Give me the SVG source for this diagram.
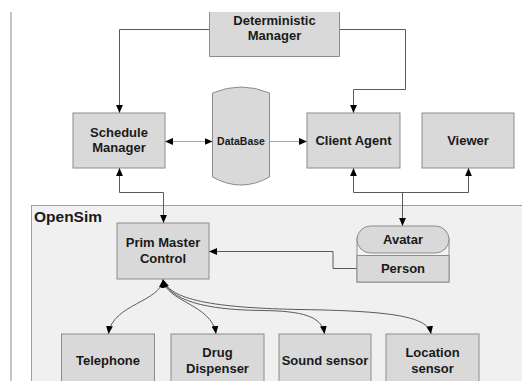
<svg xmlns="http://www.w3.org/2000/svg" width="522" height="381" viewBox="0 0 522 381">
  <style>
    .box { fill: #d9d9d9; stroke: #8c8c8c; stroke-width: 1; }
    .lbl { font-family: "Liberation Sans", Arial, sans-serif; font-weight: bold; font-size: 13px; fill: #1a1a1a; text-anchor: middle; }
    .conn { fill: none; stroke: #5a5a5a; stroke-width: 1; }
    .conn-light { fill: none; stroke: #a6a6a6; stroke-width: 1.2; }
    .arrow { marker-end: url(#ah); }
    .arrow2 { marker-start: url(#ah); marker-end: url(#ah); }
  </style>
  <defs>
    <marker id="ah" viewBox="0 0 8 8" refX="8" refY="4" markerWidth="8" markerHeight="8" markerUnits="userSpaceOnUse" orient="auto-start-reverse">
      <path d="M0,0.6 L8,4 L0,7.4 z" fill="#000"/>
    </marker>
  </defs>

  <rect width="522" height="381" fill="#ffffff"/>

  <!-- page margin line -->
  <line x1="11" y1="12" x2="11" y2="381" stroke="#8c8c8c" stroke-width="1"/>

  <!-- OpenSim region -->
  <g id="opensim">
    <rect x="31.5" y="205.5" width="500" height="190" fill="#f0f0f0" stroke="#a0a0a0" stroke-width="1"/>
    <text x="34" y="222" font-family="'Liberation Sans', Arial, sans-serif" font-weight="bold" font-size="15.5" fill="#1a1a1a">OpenSim</text>
  </g>

  <!-- connectors -->
  <g id="connectors">
    <path class="conn arrow" d="M209,29.5 H119.5 V113"/>
    <path class="conn arrow" d="M340,29.5 H405.5 V89.5 H353.5 V113"/>
    <path class="conn-light arrow2" d="M165,141.5 H212.5"/>
    <path class="conn-light arrow" d="M269,141.5 H307"/>
    <path class="conn arrow2" d="M119.5,168 V192.5 H163.5 V223"/>
    <path class="conn arrow2" d="M353.5,168 V192.5 H468.5 V168"/>
    <path class="conn arrow" d="M402.5,192.5 V226"/>
    <path class="conn arrow" d="M357,268.5 H333 V251.5 H209"/>
    <path class="conn arrow2" d="M163,279.5 C161,302 112,304 108.5,334"/>
    <path class="conn arrow2" d="M163,279.5 C166,302 212,304 216,334"/>
    <path class="conn arrow2" d="M163,279.5 C172,305 220,310 262,310.5 C302,311 322,316 324.5,334"/>
    <path class="conn arrow2" d="M163,279.5 C170,302 225,308 300,309.5 C390,311 428,316 431,334"/>
  </g>

  <g id="deterministic-manager">
    <rect x="209.5" y="12" width="130" height="44.5" fill="#d9d9d9"/>
    <path d="M209.5,12 V56.5 H339.5 V12" fill="none" stroke="#8c8c8c"/>
    <text class="lbl" x="274.5" y="25">Deterministic</text>
    <text class="lbl" x="274.5" y="40">Manager</text>
  </g>

  <g id="schedule-manager">
    <rect class="box" x="73" y="113" width="92" height="55"/>
    <text class="lbl" x="119" y="137">Schedule</text>
    <text class="lbl" x="119" y="152">Manager</text>
  </g>

  <g id="database">
    <path d="M212.5,93 Q241,81 269.5,93 V177 Q241,193 212.5,177 Z" fill="#d9d9d9" stroke="#8c8c8c" stroke-width="1"/>
    <text x="241" y="145" font-family="'Liberation Sans', Arial, sans-serif" font-weight="bold" font-size="10.5" fill="#1a1a1a" text-anchor="middle">DataBase</text>
  </g>

  <g id="client-agent">
    <rect class="box" x="307" y="113" width="93" height="55"/>
    <text class="lbl" x="353.5" y="145">Client Agent</text>
  </g>

  <g id="viewer">
    <rect class="box" x="422" y="113" width="92" height="55"/>
    <text class="lbl" x="468" y="145">Viewer</text>
  </g>

  <g id="prim-master-control">
    <rect class="box" x="117" y="223" width="92" height="56"/>
    <text class="lbl" x="163" y="247">Prim Master</text>
    <text class="lbl" x="163" y="263">Control</text>
  </g>

  <g id="avatar-person">
    <rect x="357" y="238" width="92" height="44" fill="#f4f4f4" stroke="#8c8c8c"/>
    <rect x="357" y="226" width="92" height="27" rx="13.5" ry="13.5" fill="#d9d9d9" stroke="#8c8c8c"/>
    <rect x="357" y="255.5" width="92" height="26.5" fill="#d9d9d9" stroke="#8c8c8c"/>
    <text class="lbl" x="403" y="244">Avatar</text>
    <text class="lbl" x="403" y="273">Person</text>
  </g>

  <g id="telephone">
    <rect class="box" x="61.5" y="334" width="93" height="60"/>
    <text class="lbl" x="108" y="365">Telephone</text>
  </g>

  <g id="drug-dispenser">
    <rect class="box" x="171" y="334" width="93" height="60"/>
    <text class="lbl" x="217.5" y="357">Drug</text>
    <text class="lbl" x="217.5" y="373">Dispenser</text>
  </g>

  <g id="sound-sensor">
    <rect class="box" x="279" y="334" width="92" height="60"/>
    <text class="lbl" x="325" y="365">Sound sensor</text>
  </g>

  <g id="location-sensor">
    <rect class="box" x="386" y="334" width="93" height="60"/>
    <text class="lbl" x="432.5" y="357">Location</text>
    <text class="lbl" x="432.5" y="373">sensor</text>
  </g>
</svg>
